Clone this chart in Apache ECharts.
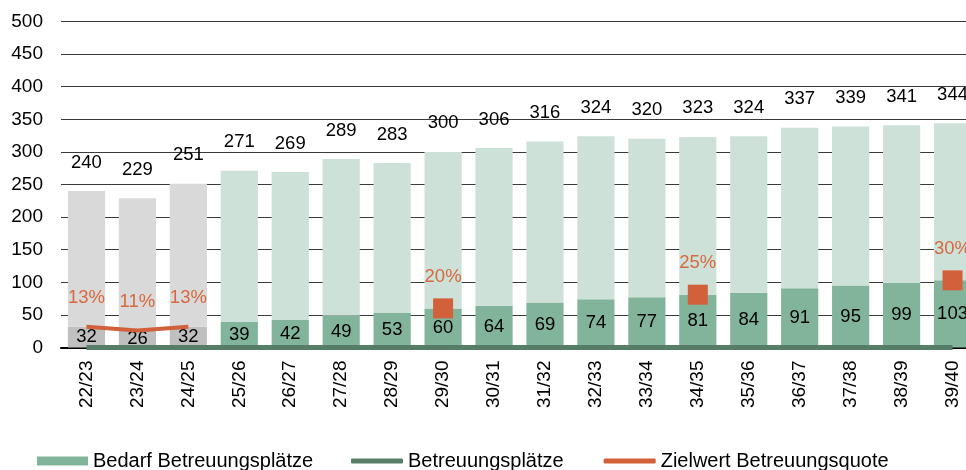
<!DOCTYPE html>
<html>
<head>
<meta charset="utf-8">
<script src="https://cdn.jsdelivr.net/npm/echarts@6/dist/echarts.min.js"></script>
<style>
html,body{margin:0;padding:0;background:#fff;}
#chart{width:966px;height:470px;}
</style>
</head>
<body>
<div id="chart"></div>
<script>
// ---- data ----
const categories = ['22/23','23/24','24/25','25/26','26/27','27/28','28/29','29/30','30/31','31/32','32/33','33/34','34/35','35/36','36/37','37/38','38/39','39/40'];
const bedarfTotal = [240,229,251,271,269,289,283,300,306,316,324,320,323,324,337,339,341,344];
const plaetze = [32,26,32,39,42,49,53,60,64,69,74,77,81,84,91,95,99,103];
const betreuungsLinie = [0,0,0,0,0,0,0,0,0,0,0,0,0,0,0,0,0,0];
const zielwert = [32,26,32,null,null,null,null,60,null,null,null,null,81,null,null,null,null,103];
const zielLabels = ['13%','11%','13%','','','','','20%','','','','','25%','','','','','30%'];
const historicCount = 3;
const yTicks = [0,50,100,150,200,250,300,350,400,450,500];

// ---- styles ----
const FONT = 'Liberation Sans, Arial, sans-serif';
const C_BOTTOM = '#82b49b', C_TOP = '#cde1d8', C_GREY_B = '#bfbfbf', C_GREY_T = '#d9d9d9';
const C_DARK = '#567d68', C_ORANGE = '#d1603b', C_ORANGE_TXT = '#d8683f';

const bottomData = plaetze.map((v,i) => i < historicCount ? {value:v, itemStyle:{color:C_GREY_B}} : v);
const topData = bedarfTotal.map((t,i) => {
  const v = t - plaetze[i];
  return i < historicCount ? {value:v, itemStyle:{color:C_GREY_T}} : v;
});
const zielData = zielwert.map((v,i) => {
  if (v === null) return null;
  if (i < historicCount) return {value:v, symbol:'circle', symbolSize:0, label:{distance:19}};
  return {value:v, symbol:'rect', symbolSize:20, label:{distance:12}};
});

const chart = echarts.init(document.getElementById('chart'), null, {renderer:'canvas'});
chart.setOption({
  animation:false,
  textStyle:{fontFamily:FONT},
  grid:{left:61, right:-12, top:21.5, bottom:122.5, containLabel:false, outerBoundsMode:'none'},
  xAxis:{
    type:'category', data:categories,
    axisTick:{show:false},
    axisLine:{show:true, lineStyle:{color:'#000', width:2}},
    axisLabel:{rotate:90, fontSize:19, color:'#000', margin:13, fontFamily:FONT}
  },
  yAxis:{
    type:'value', min:yTicks[0], max:yTicks[yTicks.length-1], interval:50,
    axisLine:{show:false}, axisTick:{show:false},
    axisLabel:{fontSize:19, color:'#000', margin:18, fontFamily:FONT},
    splitLine:{lineStyle:{color:'#3a3a3a', width:1}}
  },
  legend:[
    {data:['Bedarf Betreuungsplätze'], left:32, top:446, icon:'rect', itemWidth:51, itemHeight:9, itemGap:40,
     textStyle:{fontSize:20, color:'#000', fontFamily:FONT}},
    {data:['Betreuungsplätze','Zielwert Betreuungsquote'], left:346, top:446, icon:'roundRect', itemWidth:52, itemHeight:5, itemGap:40,
     textStyle:{fontSize:20, color:'#000', fontFamily:FONT}}
  ],
  series:[
    {
      name:'Bedarf Betreuungsplätze', type:'bar', stack:'b', data:bottomData,
      barWidth:'73%', itemStyle:{color:C_BOTTOM},
      label:{show:true, position:'inside', color:'#000', fontSize:18.5, fontFamily:FONT},
      z:2
    },
    {
      name:'Bedarf gesamt', type:'bar', stack:'b', data:topData,
      barWidth:'73%', itemStyle:{color:C_TOP},
      label:{show:true, position:'top', distance:19, color:'#000', fontSize:18.5, fontFamily:FONT,
        formatter:p => String(bedarfTotal[p.dataIndex])},
      z:2
    },
    {
      name:'Betreuungsplätze', type:'line', data:betreuungsLinie,
      symbol:'none', lineStyle:{color:C_DARK, width:5}, itemStyle:{color:C_DARK},
      z:4
    },
    {
      name:'Zielwert Betreuungsquote', type:'line', data:zielData,
      connectNulls:false, showSymbol:true,
      lineStyle:{color:C_ORANGE, width:4}, itemStyle:{color:C_ORANGE},
      label:{show:true, position:'top', color:C_ORANGE_TXT, fontSize:18.5, fontFamily:FONT,
        formatter:p => zielLabels[p.dataIndex]},
      z:5
    }
  ]
});
</script>
</body>
</html>
